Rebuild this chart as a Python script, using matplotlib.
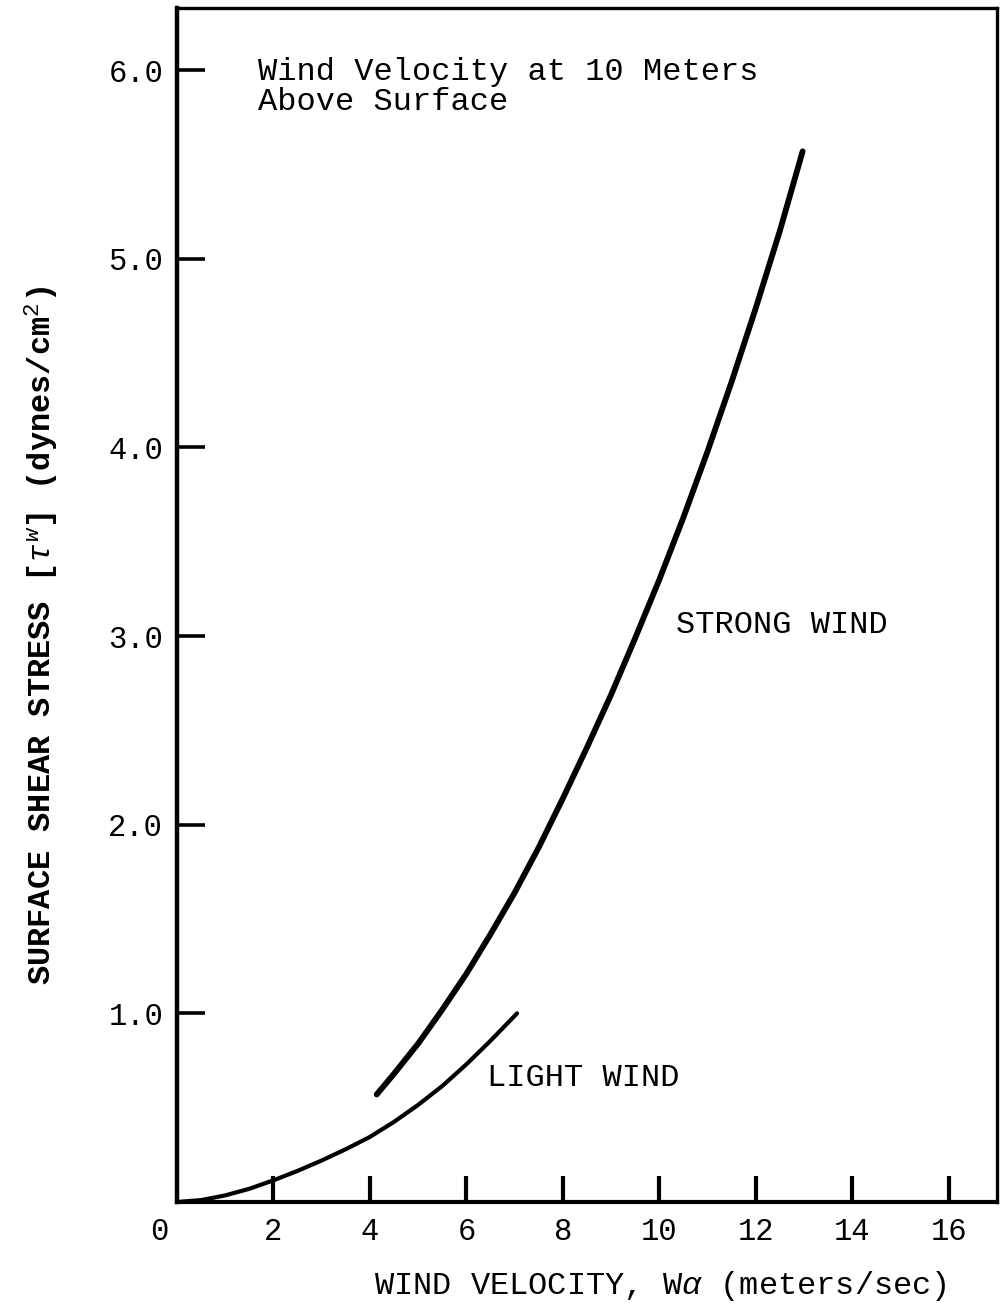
import matplotlib
matplotlib.use("Agg")
import matplotlib.pyplot as plt

# ---- data ----
strong_x = [4.14, 4.5, 5.0, 5.5, 6.0, 6.5, 7.0, 7.5, 8.0, 8.5, 9.0, 9.5,
            10.0, 10.5, 11.0, 11.5, 12.0, 12.5, 12.97]
strong_y = [0.57, 0.68, 0.84, 1.02, 1.21, 1.42, 1.64, 1.88, 2.14, 2.41, 2.69, 2.99,
            3.30, 3.63, 3.98, 4.35, 4.74, 5.15, 5.57]
light_x = [0.0, 0.5, 1.0, 1.5, 2.0, 2.5, 3.0, 3.5, 4.0, 4.5, 5.0, 5.5, 6.0, 6.5, 7.05]
light_y = [0.0, 0.01, 0.035, 0.07, 0.115, 0.165, 0.22, 0.28, 0.345, 0.425, 0.515,
           0.615, 0.73, 0.855, 1.0]
x_ticks = [2, 4, 6, 8, 10, 12, 14, 16]
y_ticks = [1.0, 2.0, 3.0, 4.0, 5.0, 6.0]
y_tick_labels = ["1.0", "2.0", "3.0", "4.0", "5.0", "6.0"]

FONT = "Liberation Mono"
plt.rcParams["font.family"] = [FONT, "DejaVu Sans"]
plt.rcParams["mathtext.fontset"] = "custom"
plt.rcParams["mathtext.rm"] = FONT
plt.rcParams["mathtext.it"] = FONT + ":italic"
plt.rcParams["mathtext.bf"] = FONT + ":bold"

W, H = 1001, 1306
fig = plt.figure(figsize=(W / 100, H / 100), dpi=100)
left, right, bottom, top = 177, 997, 1202, 8
ax = fig.add_axes([left / W, (H - bottom) / H, (right - left) / W, (bottom - top) / H])

ax.plot(strong_x, strong_y, color="black", lw=4.2, solid_capstyle="round",
        solid_joinstyle="round")
ax.plot(light_x, light_y, color="black", lw=3.0, solid_capstyle="round",
        solid_joinstyle="round")

ax.set_xlim(0, 17.0)
ax.set_ylim(0, 6.33)

for s in ax.spines.values():
    s.set_linewidth(2.4)
ax.spines["left"].set_linewidth(3.2)
ax.spines["bottom"].set_linewidth(3.0)

ax.set_xticks(x_ticks)
ax.set_xticklabels([str(v) for v in x_ticks])
ax.set_yticks(y_ticks)
ax.set_yticklabels(y_tick_labels)
ax.tick_params(axis="x", direction="in", length=19, width=3.0, pad=11,
               labelsize=22, top=False)
ax.tick_params(axis="y", direction="in", length=20, width=2.6, pad=10,
               labelsize=22, right=False)

# origin label "0"
ax.annotate("0", xy=(-0.37, 0), xycoords=ax.get_xaxis_transform(),
            xytext=(0, -11), textcoords="offset points",
            ha="center", va="top", fontsize=22, annotation_clip=False)

ax.set_xlabel("WIND VELOCITY, W$\\alpha$ (meters/sec)", fontsize=23)
ax.xaxis.set_label_coords((660 - left) / (right - left), -(1286 - bottom) / (bottom - top))
ax.xaxis.label.set_va("center")

ax.set_ylabel("SURFACE SHEAR STRESS [$\\tau^{w}$] (dynes/cm$^{2}$)", fontsize=23,
              fontweight="bold")
ax.yaxis.set_label_coords((42 - left) / (right - left), (bottom - 635) / (bottom - top))
ax.yaxis.label.set_va("center")

ax.text(1.68, 6.07, "Wind Velocity at 10 Meters\nAbove Surface", fontsize=23,
        ha="left", va="top", linespacing=1.0)
ax.text(10.35, 3.06, "STRONG WIND", fontsize=23, ha="left", va="center")
ax.text(6.43, 0.656, "LIGHT WIND", fontsize=23, ha="left", va="center")

fig.savefig("out.png", dpi=100)
